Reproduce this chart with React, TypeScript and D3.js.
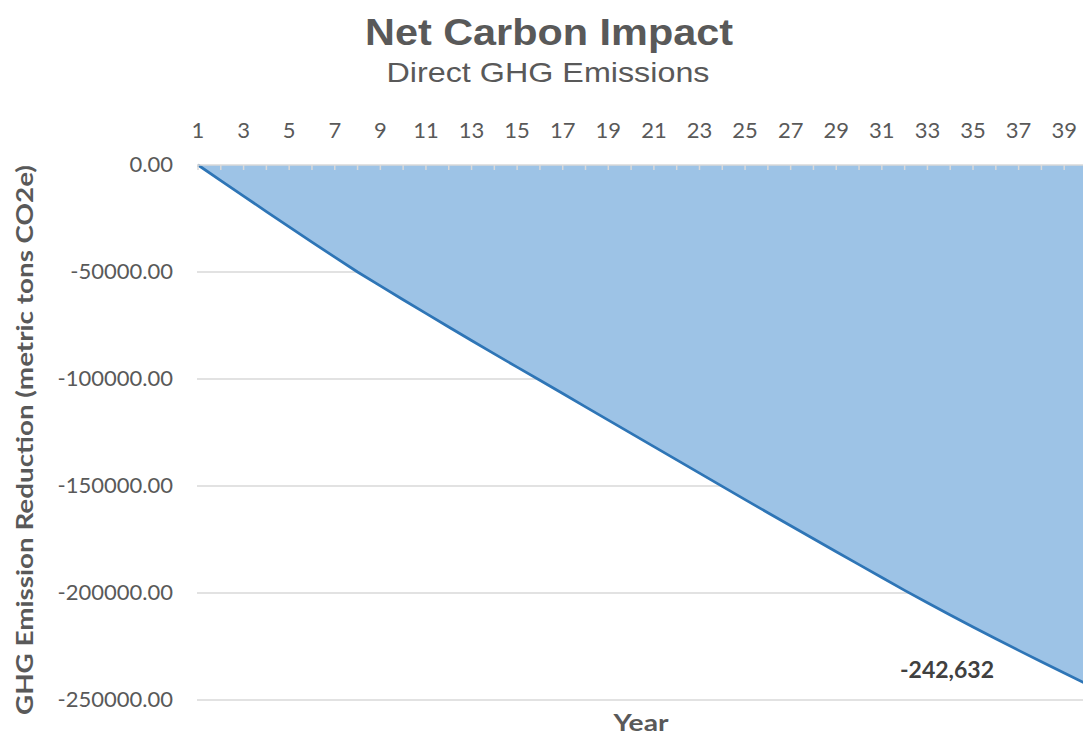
import * as d3 from "d3"

// Year index (category axis)
const years = d3.range(1, 41)

// Cumulative net GHG emission reduction (metric tons CO2e)
const netImpact = [
  0, -7300, -14550, -21750, -28900, -36000, -43050, -50000,
  -56500, -62950, -69350, -75700, -82000, -88250, -94450, -100600,
  -106800, -113000, -119200, -125400, -131600, -137800, -144000, -150200,
  -156350, -162470, -168570, -174650, -180710, -186750, -192770, -198770,
  -204570, -210270, -215870, -221370, -226820, -232170, -237420, -242632,
]

const yTicks = [0, -50000, -100000, -150000, -200000, -250000]
const xLabelYears = d3.range(1, 41, 2)

const W = 1083
const H = 735

export default function App() {
  const x = d3.scaleLinear().domain([1, 40]).range([198, 1087])
  const y = d3.scaleLinear().domain([-250000, 0]).range([700, 165])

  const data = years.map((yr, i) => ({ yr, v: netImpact[i] }))

  const area = d3
    .area<{ yr: number; v: number }>()
    .x((d) => x(d.yr))
    .y0(y(0))
    .y1((d) => y(d.v))

  const line = d3
    .line<{ yr: number; v: number }>()
    .x((d) => x(d.yr))
    .y((d) => y(d.v))

  const last = data[data.length - 1]
  const labelFont = "Lato, 'Open Sans', sans-serif"
  const titleFont = "'Liberation Sans', Arial, sans-serif"

  return (
    <svg
      width={W}
      height={H}
      style={{ position: "fixed", left: 0, top: 0, background: "#fff" }}
    >
      {/* titles */}
      <text
        x={549}
        y={45}
        textAnchor="middle"
        fontFamily={titleFont}
        fontWeight="bold"
        fontSize={36}
        fill="#595959"
        textLength={368}
        lengthAdjust="spacingAndGlyphs"
      >
        Net Carbon Impact
      </text>
      <text
        x={548}
        y={82}
        textAnchor="middle"
        fontFamily={titleFont}
        fontSize={28}
        fill="#595959"
        textLength={323}
        lengthAdjust="spacingAndGlyphs"
      >
        Direct GHG Emissions
      </text>

      {/* gridlines */}
      {yTicks.filter((t) => t !== 0).map((t) => (
        <line key={t} x1={197} x2={W} y1={y(t)} y2={y(t)} stroke="#D9D9D9" strokeWidth={1.5} />
      ))}

      {/* area + line */}
      <path d={area(data) ?? ""} fill="#9DC3E6" />
      <path d={line(data) ?? ""} fill="none" stroke="#2E75B6" strokeWidth={2.75} strokeLinejoin="round" />

      {/* top category axis */}
      <line x1={197} x2={W} y1={y(0)} y2={y(0)} stroke="#D9D9D9" strokeWidth={1.5} />
      {years.map((yr) => (
        <line key={yr} x1={x(yr)} x2={x(yr)} y1={y(0)} y2={y(0) + 5} stroke="#D9D9D9" strokeWidth={1.5} />
      ))}
      {xLabelYears.map((yr) => (
        <text
          key={yr}
          x={x(yr)}
          y={138}
          textAnchor="middle"
          fontFamily={labelFont}
          fontSize={22}
          fill="#595959"
        >
          {yr}
        </text>
      ))}

      {/* y tick labels */}
      {yTicks.map((t) => (
        <text
          key={t}
          x={173}
          y={y(t) + 7}
          textAnchor="end"
          fontFamily={labelFont}
          fontSize={22}
          fill="#595959"
        >
          {d3.format(".2f")(t).replace("−", "-")}
        </text>
      ))}

      {/* data label */}
      <text
        x={947}
        y={678}
        textAnchor="middle"
        fontFamily={labelFont}
        fontWeight="bold"
        fontSize={23}
        fill="#404040"
      >
        {d3.format(",")(last.v).replace("−", "-")}
      </text>

      {/* axis titles */}
      <text
        transform={`translate(33, 440) rotate(-90)`}
        textAnchor="middle"
        fontFamily={labelFont}
        fontWeight="bold"
        fontSize={22}
        fill="#595959"
        textLength={550}
        lengthAdjust="spacingAndGlyphs"
      >
        GHG Emission Reduction (metric tons CO2e)
      </text>
      <text
        x={641}
        y={731}
        textAnchor="middle"
        fontFamily={labelFont}
        fontWeight="bold"
        fontSize={22}
        fill="#595959"
        textLength={55}
        lengthAdjust="spacingAndGlyphs"
      >
        Year
      </text>
    </svg>
  )
}
